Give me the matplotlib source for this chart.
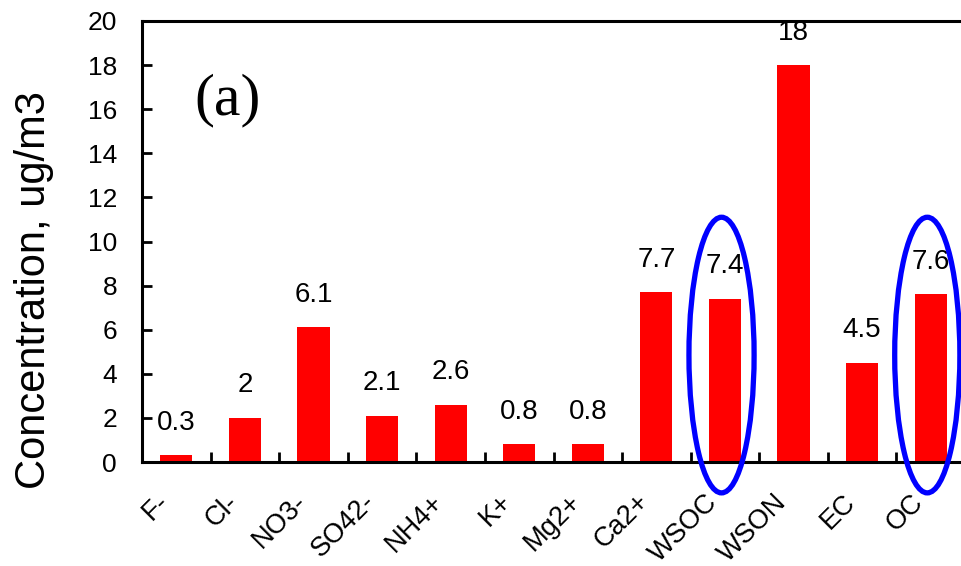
import matplotlib
matplotlib.use("Agg")
import matplotlib.pyplot as plt
from matplotlib.patches import Ellipse
from matplotlib.transforms import ScaledTranslation

species = ["F-", "Cl-", "NO3-", "SO42-", "NH4+", "K+", "Mg2+", "Ca2+",
           "WSOC", "WSON", "EC", "OC"]
concentration = [0.3, 2, 6.1, 2.1, 2.6, 0.8, 0.8, 7.7, 7.4, 18, 4.5, 7.6]
value_labels = ["0.3", "2", "6.1", "2.1", "2.6", "0.8", "0.8", "7.7",
                "7.4", "18", "4.5", "7.6"]
y_ticks = [0, 2, 4, 6, 8, 10, 12, 14, 16, 18, 20]
highlighted = ["WSOC", "OC"]

plt.rcParams["font.family"] = ["Liberation Sans", "DejaVu Sans"]

W, H = 961, 566
fig = plt.figure(figsize=(W / 100, H / 100), dpi=100)
left, right, top, bottom = 142, 965, 21, 462
ax = fig.add_axes([left / W, 1 - bottom / H, (right - left) / W, (bottom - top) / H])

x = list(range(len(species)))
ax.bar(x, concentration, width=0.47, color="#FF0000", edgecolor="none", zorder=2)

for xi, v, lab in zip(x, concentration, value_labels):
    ax.annotate(lab, (xi, v), xytext=(0, 14), textcoords="offset points",
                ha="center", va="bottom", fontsize=20, color="black")

ax.set_xlim(-0.5, len(species) - 0.5)
ax.set_ylim(0, 20)
ax.set_yticks(y_ticks)
ax.tick_params(axis="y", direction="in", length=7, width=2, labelsize=19, pad=18)

# category ticks sit between the bars
ax.set_xticks([i + 0.5 for i in x[:-1]], minor=True)
ax.set_xticks(x)
ax.tick_params(axis="x", which="minor", direction="in", length=7, width=2)
ax.tick_params(axis="x", which="major", length=0, pad=26)
ax.set_xticklabels(species, rotation=45, ha="right", va="center",
                   rotation_mode="anchor", fontsize=19.5)
shift = ScaledTranslation(-8 / 72, 0, fig.dpi_scale_trans)
for t in ax.get_xticklabels():
    t.set_transform(t.get_transform() + shift)

for side in ["left", "top", "bottom"]:
    ax.spines[side].set_linewidth(2.2)
ax.spines["right"].set_visible(False)

fig.text(34 / W, 1 - 290 / H, "Concentration, ug/m3", rotation=90,
         ha="center", va="center", fontsize=30)

# panel tag, placed in display pixels
fig.text(228 / W, 1 - 100 / H, "(a)", fontsize=43,
         family=["Liberation Serif", "DejaVu Serif"], ha="center", va="center")

for name in highlighted:
    i = species.index(name)
    e = Ellipse((i - 0.05, 4.85), width=0.95, height=12.5, fill=False,
                edgecolor="#0000FF", linewidth=3.8, clip_on=False, zorder=3)
    ax.add_patch(e)

fig.savefig("out.png", dpi=100)
